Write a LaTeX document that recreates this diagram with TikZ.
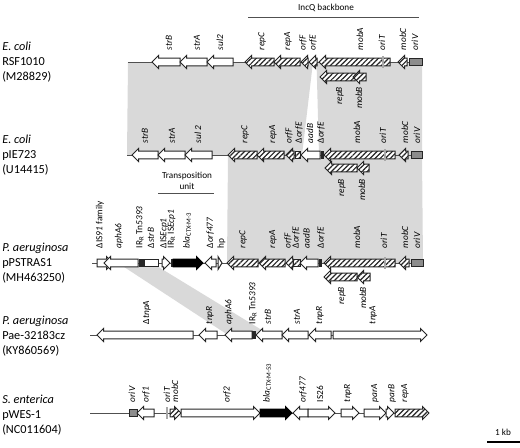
\documentclass[tikz,border=0pt]{standalone}
\usepackage{fontspec}
\setmainfont{Carlito}
\usetikzlibrary{patterns.meta}
\definecolor{shade}{HTML}{D9D9D9}
\definecolor{ln}{HTML}{505050}
\definecolor{ol}{HTML}{262626}
\definecolor{oriv}{HTML}{8C8C8C}
\definecolor{orit}{HTML}{A8A8A8}
\tikzset{
  wgene/.style={draw=ol, line width=0.75pt, fill=white},
  hgene/.style={draw=ol, line width=0.75pt, preaction={fill=white},
     pattern={Lines[angle=45,distance=2.7pt,line width=0.9pt]}, pattern color=ol},
  bgene/.style={draw=black, line width=0.75pt, fill=black},
  dbox/.style={draw=ol, line width=0.5pt, fill=ol},
  ovbox/.style={draw=ol, line width=0.75pt, fill=oriv},
  otbar/.style={draw=none, fill=orit},
  bb/.style={draw=ln, line width=0.7pt},
  hom/.style={fill=shade, draw=none},
  lab/.style={rotate=90, anchor=west, inner sep=0.5pt, align=left,
     font=\fontsize{7}{8.2}\selectfont\itshape},
  labb/.style={lab, anchor=east},
  org/.style={anchor=west, inner sep=0pt, align=left,
     font=\fontsize{9.2}{11.25}\selectfont},
  ttl/.style={inner sep=0pt, align=center, font=\fontsize{6.9}{8.2}\selectfont},
}
\newcommand\geneR[4]{%
  \pgfmathsetmacro\hb{max(#2,#3-6.5)}%
  \draw[#1] (#2,#4-3.8) -- (\hb,#4-3.8) -- (\hb,#4-6.5) -- (#3,#4) -- (\hb,#4+6.5) -- (\hb,#4+3.8) -- (#2,#4+3.8) -- cycle;}
\newcommand\geneL[4]{%
  \pgfmathsetmacro\hb{min(#3,#2+6.5)}%
  \draw[#1] (#3,#4-3.8) -- (\hb,#4-3.8) -- (\hb,#4-6.5) -- (#2,#4) -- (\hb,#4+6.5) -- (\hb,#4+3.8) -- (#3,#4+3.8) -- cycle;}
\newcommand\gbox[4]{\draw[#1] (#2,#4-3.8) rectangle (#3,#4+3.8);}
\newcommand\otb[2]{\fill[otbar] (#1-1.3,#2-6) rectangle (#1+1.3,#2+6);}
\begin{document}
\begin{tikzpicture}[x=0.75pt,y=-0.75pt]
\useasboundingbox (0,0) rectangle (520,447);
% ---------- homology shading ----------
\fill[hom] (128,62) -- (313,62) -- (302,155) -- (127,155) -- cycle;
\fill[hom] (316.5,62) -- (422,62) -- (422,155) -- (319,155) -- cycle;
\fill[hom] (228,155) -- (422,155) -- (423,263) -- (227,263) -- cycle;
\fill[hom] (118,263) -- (152,263) -- (270,335) -- (228,335) -- cycle;
% ---------- IncQ backbone ----------
\node[ttl] (incq) at (326,8) {IncQ backbone};
\draw[bb] (248,17) -- (419,17);
% ---------- Transposition unit ----------
\node[ttl] (tu) at (187,181) {Transposition\\unit};
\draw[bb] (158,193) -- (214,193);
% ---------- organisms ----------
\node[org] (o1) at (2,62) {\textit{E. coli}\\RSF1010\\(M28829)};
\node[org] (o2) at (2,155) {\textit{E. coli}\\pIE723\\(U14415)};
\node[org] (o3) at (2,263) {\textit{P. aeruginosa}\\pPSTRAS1\\(MH463250)};
\node[org] (o4) at (2,336) {\textit{P. aeruginosa}\\Pae-32183cz\\(KY860569)};
\node[org] (o5) at (2,415) {\textit{S. enterica}\\pWES-1\\(NC011604)};
% ---------- Row 1 ----------
\draw[bb] (128,62) -- (410,62);
\geneL{wgene}{152}{180}{62}
\geneL{wgene}{180}{207}{62}
\geneL{wgene}{207}{233}{62}
\geneL{hgene}{245}{274}{62}
\geneL{hgene}{274}{300}{62}
\geneL{hgene}{301}{308}{62}
\geneL{hgene}{309}{317}{62}
\geneL{hgene}{319}{390}{62}
\otb{383}{62}
\geneL{hgene}{398}{407}{62}
\gbox{ovbox}{409}{422}{62}
\geneL{hgene}{320}{355}{77}
\geneL{hgene}{353}{366}{77}
\node[lab] (a1) at (169,51) {strB};
\node[lab] (a2) at (197,51) {strA};
\node[lab] (a3) at (220,51) {sul2};
\node[lab] (a4) at (262,51) {repC};
\node[lab] (a5) at (288,51) {repA};
\node[lab] (a6) at (303,51) {orfF};
\node[lab] (a7) at (313,51) {orfE};
\node[lab] (a8) at (360,51) {mobA};
\node[lab] (a9) at (382,51) {oriT};
\node[lab] (a10) at (403,51) {mobC};
\node[lab] (a11) at (415,51) {oriV};
\node[labb] (a12) at (340,86) {repB};
\node[labb] (a13) at (359,86) {mobB};
% ---------- Row 2 ----------
\draw[bb] (127,155) -- (411,155);
\geneL{wgene}{132}{158}{155}
\geneL{wgene}{158}{185}{155}
\geneL{wgene}{185}{212}{155}
\geneL{hgene}{228}{257}{155}
\geneL{hgene}{257}{284}{155}
\geneL{hgene}{286}{294}{155}
\gbox{hgene}{295}{300}{155}
\geneL{wgene}{301}{320}{155}
\gbox{dbox}{321}{323}{155}
\geneL{hgene}{324}{395}{155}
\otb{385}{155}
\geneL{hgene}{399}{408}{155}
\gbox{ovbox}{411}{422}{155}
\geneL{hgene}{325}{357}{168}
\geneL{hgene}{357}{369}{168}
\node[lab] (b1) at (145,144) {strB};
\node[lab] (b2) at (172,144) {strA};
\node[lab] (b3) at (198,144) {sul 2};
\node[lab] (b4) at (245,144) {repC};
\node[lab] (b5) at (273,144) {repA};
\node[lab] (b6) at (289,144) {orfF};
\node[lab] (b7) at (299,144) {\upshape Δ\itshape orfE};
\node[lab] (b8) at (310,144) {aadB};
\node[lab] (b9) at (321,144) {\upshape Δ\itshape orfE};
\node[lab] (b10) at (357,144) {mobA};
\node[lab] (b11) at (383,144) {oriT};
\node[lab] (b12) at (405,144) {mobC};
\node[lab] (b13) at (417,144) {oriV};
\node[labb] (b14) at (342,178) {repB};
\node[labb] (b15) at (362,178) {mobB};
% ---------- Row 3 ----------
\draw[bb] (92,263) -- (411,263);
\geneR{wgene}{97}{113}{263}
\geneL{wgene}{104}{138}{263}
\gbox{dbox}{139.5}{140.8}{263}
\gbox{dbox}{141.8}{143}{263}
\gbox{wgene}{144}{158}{263}
\geneR{wgene}{162}{170}{263}
\gbox{dbox}{171}{172.3}{263}
\geneR{bgene}{173}{203}{263}
\geneL{wgene}{205}{216}{263}
\geneR{wgene}{218}{222}{263}
\geneL{hgene}{227}{258}{263}
\geneL{hgene}{259}{285}{263}
\geneL{hgene}{286}{293}{263}
\gbox{hgene}{293}{300}{263}
\geneL{wgene}{300}{318}{263}
\gbox{dbox}{319}{321.5}{263}
\geneL{hgene}{324}{395}{263}
\otb{385}{263}
\geneL{hgene}{399}{409}{263}
\gbox{ovbox}{411}{423}{263}
\geneL{hgene}{324}{357}{277}
\geneL{hgene}{357}{370}{277}
\node[lab] (c1) at (100,249) {\upshape ΔIS\itshape 91\upshape\ family};
\node[lab] (c2) at (119,249) {aphA6};
\node[lab] (c3) at (140,249) {\upshape IR\textsubscript{R} Tn\itshape 5393};
\node[lab] (c4) at (151,249) {\upshape Δ\itshape strB};
\node[lab] (c5) at (164,249) {\upshape ΔIS\itshape Ecp1};
\node[lab] (c6) at (171.5,249) {\upshape IR\textsubscript{R} IS\itshape Ecp1};
\node[lab] (c7) at (187,249) {bla\textsubscript{\upshape CTX-M-3}};
\node[lab] (c8) at (216,249) {\upshape Δ\itshape orf477\\\upshape hp};
\node[lab] (c9) at (243,249) {repC};
\node[lab] (c10) at (273,249) {repA};
\node[lab] (c11) at (288,249) {orfF};
\node[lab] (c12) at (301,249) {\upshape Δ\itshape orfE\\aadB};
\node[lab] (c13) at (321,249) {\upshape Δ\itshape orfE};
\node[lab] (c14) at (357,249) {mobA};
\node[lab] (c15) at (384,249) {oriT};
\node[lab] (c16) at (405,249) {mobC};
\node[lab] (c17) at (417,249) {oriV};
\node[labb] (c18) at (342,286) {repB};
\node[labb] (c19) at (363,286) {mobB};
% ---------- Row 4 ----------
\draw[bb] (90,335) -- (427,335);
\geneL{wgene}{97}{193}{335}
\geneL{wgene}{199}{217}{335}
\geneL{wgene}{225}{252}{335}
\gbox{dbox}{252}{255}{335}
\geneL{wgene}{256}{282}{335}
\geneL{wgene}{282}{308}{335}
\geneL{wgene}{309}{331}{335}
\geneR{wgene}{333}{427}{335}
\node[lab] (d1) at (147,325) {\upshape Δ\itshape tnpA};
\node[lab] (d2) at (210,325) {tnpR};
\node[lab] (d3) at (229,325) {aphA6};
\node[lab] (d4) at (253,325) {\upshape IR\textsubscript{R} Tn\itshape 5393};
\node[lab] (d5) at (268,325) {strB};
\node[lab] (d6) at (297,325) {strA};
\node[lab] (d7) at (320,325) {tnpR};
\node[lab] (d8) at (373,325) {tnpA};
% ---------- Row 5 ----------
\draw[bb] (90,413) -- (429,413);
\gbox{ovbox}{129}{137}{413}
\geneL{wgene}{137}{154}{413}
\otb{167}{413}
\geneR{hgene}{170}{181}{413}
\geneR{wgene}{181}{260}{413}
\geneR{bgene}{260}{292}{413}
\geneL{wgene}{293}{308}{413}
\geneR{wgene}{308}{335}{413}
\geneR{wgene}{341}{359}{413}
\geneR{wgene}{364}{386}{413}
\geneR{wgene}{386}{394}{413}
\geneR{hgene}{395}{429}{413}
\node[lab] (e1) at (132,403) {oriV};
\node[lab] (e2) at (146,403) {orf1};
\node[lab] (e3) at (167,403) {oriT};
\node[lab] (e4) at (175,403) {mobC};
\node[lab] (e5) at (227,403) {orf2};
\node[lab] (e6) at (267,403) {bla\textsubscript{\upshape CTX-M-53}};
\node[lab] (e7) at (303,403) {orf477};
\node[lab] (e8) at (320,403) {\upshape IS26};
\node[lab] (e9) at (348,403) {tnpR};
\node[lab] (e10) at (375,403) {parA};
\node[lab] (e11) at (392,403) {parB};
\node[lab] (e12) at (405,403) {repA};
% ---------- scale bar ----------
\node[ttl] (kb) at (503,432) {1 kb};
\draw[line width=0.8pt] (487,442) -- (520,442);
\end{tikzpicture}
\end{document}
